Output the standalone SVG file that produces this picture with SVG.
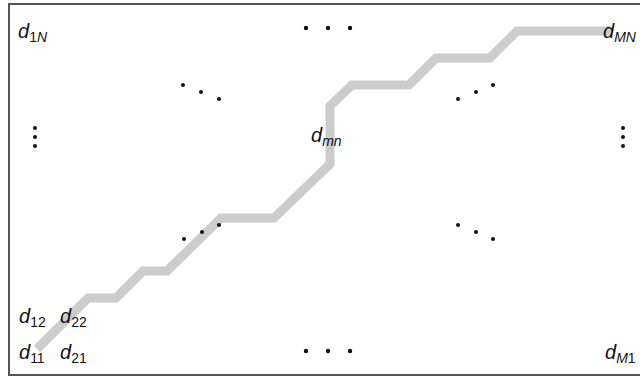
<svg xmlns="http://www.w3.org/2000/svg" width="640" height="379" viewBox="0 0 640 379">
<style>
.t{font-family:"Liberation Sans",Arial,sans-serif;font-size:20px;font-style:italic;fill:#111}
.s{font-size:14px}
.u{font-style:normal}
.dot{fill:#111}
</style>
<rect width="640" height="379" fill="#fff"/>
<g id="frame"><rect x="9" y="4" width="650" height="371" fill="none" stroke="#555" stroke-width="2"/></g>
<g id="connectors">
<polyline id="warp-path" points="37,349 88,298 116,298 143,271 167,271 221,218 274,218 330,164 330,106 352,85 409,85 436,58 490,58 517,31 612,31" fill="none" stroke="#ccc" stroke-width="9" stroke-linejoin="miter"/>
</g>
<g id="n-d1N"><text class="t" x="18" y="38">d<tspan class="s" dy="4"><tspan class="u">1</tspan>N</tspan></text></g>
<g id="n-dMN"><text class="t" x="603" y="38">d<tspan class="s" dy="4">MN</tspan></text></g>
<g id="n-dmn"><text class="t" x="311" y="142">d<tspan class="s" dy="4">mn</tspan></text></g>
<g id="n-d12"><text class="t" x="19" y="323">d<tspan class="s u" dy="4">12</tspan></text></g>
<g id="n-d22"><text class="t" x="60" y="323">d<tspan class="s u" dy="4">22</tspan></text></g>
<g id="n-d11"><text class="t" x="19" y="359">d<tspan class="s u" dy="4">11</tspan></text></g>
<g id="n-d21"><text class="t" x="60" y="359">d<tspan class="s u" dy="4">21</tspan></text></g>
<g id="n-dM1"><text class="t" x="605" y="359">d<tspan class="s" dy="4">M<tspan class="u">1</tspan></tspan></text></g>
<g id="dots">
<circle class="dot" cx="306" cy="28" r="2.2"/><circle class="dot" cx="328" cy="28" r="2.2"/><circle class="dot" cx="350" cy="28" r="2.2"/>
<circle class="dot" cx="306" cy="351" r="2.2"/><circle class="dot" cx="328" cy="351" r="2.2"/><circle class="dot" cx="350" cy="351" r="2.2"/>
<circle class="dot" cx="35" cy="128" r="2"/><circle class="dot" cx="35" cy="137" r="2"/><circle class="dot" cx="35" cy="146" r="2"/>
<circle class="dot" cx="623" cy="128" r="2"/><circle class="dot" cx="623" cy="137" r="2"/><circle class="dot" cx="623" cy="146" r="2"/>
<circle class="dot" cx="183" cy="85" r="2"/><circle class="dot" cx="201" cy="92" r="2"/><circle class="dot" cx="219" cy="99" r="2"/>
<circle class="dot" cx="458" cy="99" r="2"/><circle class="dot" cx="476" cy="92" r="2"/><circle class="dot" cx="493" cy="85" r="2"/>
<circle class="dot" cx="184" cy="239" r="2"/><circle class="dot" cx="202" cy="232" r="2"/><circle class="dot" cx="219" cy="225" r="2"/>
<circle class="dot" cx="458" cy="225" r="2"/><circle class="dot" cx="476" cy="232" r="2"/><circle class="dot" cx="493" cy="239" r="2"/>
</g>
</svg>
